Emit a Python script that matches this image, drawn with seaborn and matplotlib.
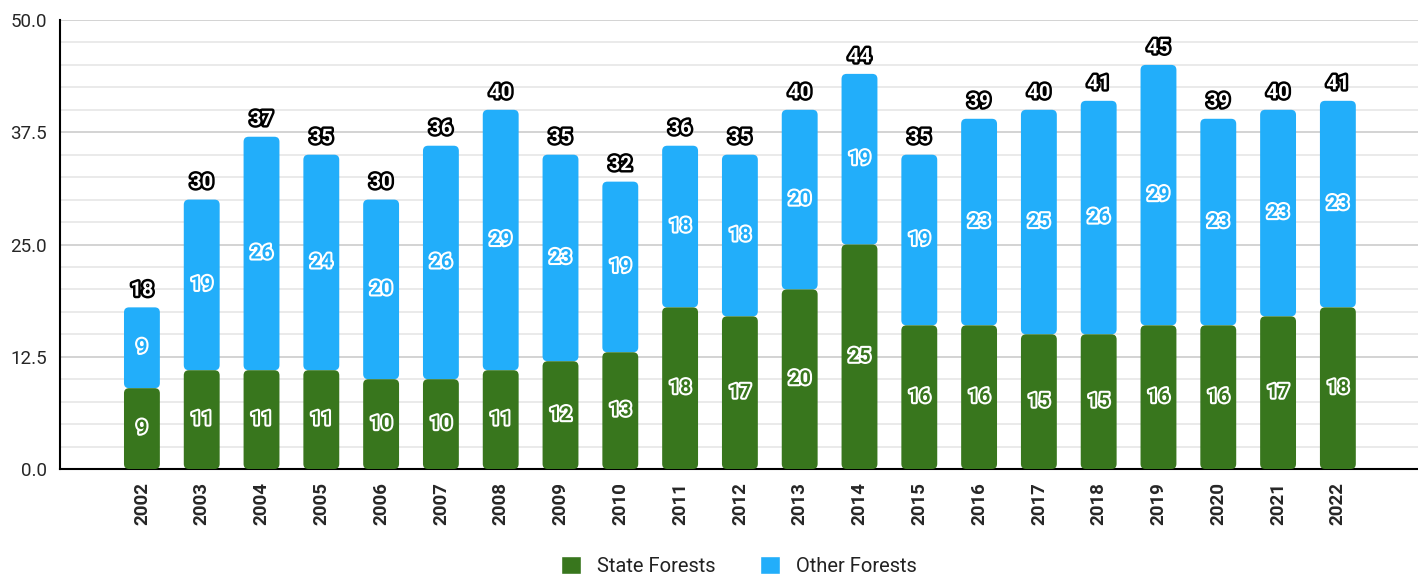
import numpy as np
import pandas as pd
import matplotlib
matplotlib.use("Agg")
import matplotlib.pyplot as plt
import matplotlib.patheffects as pe
from matplotlib.patches import FancyBboxPatch, Patch
from matplotlib.ticker import MultipleLocator
import seaborn as sns

# Data
years = [str(y) for y in range(2002, 2023)]
state_forests = [9, 11, 11, 11, 10, 10, 11, 12, 13, 18, 17, 20, 25, 16, 16, 15, 15, 16, 16, 17, 18]
other_forests = [9, 19, 26, 24, 20, 26, 29, 23, 19, 18, 18, 20, 19, 19, 23, 25, 26, 29, 23, 23, 23]
totals = [s + o for s, o in zip(state_forests, other_forests)]

green = "#38761d"
blue = "#22aefa"

sns.set_style("white")
plt.rcParams["font.family"] = ["Roboto", "DejaVu Sans"]

fig = plt.figure(figsize=(14.18, 5.74), dpi=100)
ax = fig.add_axes([60 / 1418, 1 - 469 / 574, 1 - 60 / 1418, (469 - 20) / 574])

df = pd.DataFrame({"year": years, "state": state_forests, "total": totals})
sns.barplot(data=df, x="year", y="total", color=blue, width=0.6, saturation=1, ax=ax)
sns.barplot(data=df, x="year", y="state", color=green, width=0.6, saturation=1, ax=ax)

ax.set_xlim(-1.37, 21.34)
ax.set_ylim(0, 50)

# swap plain rectangles for rounded ones, keeping the geometry from seaborn
n = len(years)
patches = list(ax.patches)
x_px = 1358 / (21.34 + 1.37)
y_px = 449 / 50
for i, p in enumerate(patches):
    x, w = p.get_x(), p.get_width()
    if i < n:
        y0, h, c = state_forests[i], other_forests[i], blue
    else:
        y0, h, c = 0, state_forests[i - n], green
    p.remove()
    ax.add_patch(FancyBboxPatch((x, y0), w, h,
                                boxstyle="round,pad=0,rounding_size=0.085",
                                mutation_aspect=x_px / y_px,
                                facecolor=c, edgecolor="none", zorder=3))

white_edge = [pe.withStroke(linewidth=3, foreground="white")]
black_edge = [pe.withStroke(linewidth=3.5, foreground="black")]
for i in range(n):
    ax.text(i, state_forests[i] / 2, str(state_forests[i]), ha="center", va="center",
            color=green, fontsize=14, fontweight="bold", path_effects=white_edge, zorder=5)
    ax.text(i, state_forests[i] + other_forests[i] / 2, str(other_forests[i]), ha="center",
            va="center", color=blue, fontsize=14, fontweight="bold", path_effects=white_edge, zorder=5)
    ax.text(i, totals[i] + 1.9, str(totals[i]), ha="center", va="center",
            color="white", fontsize=14.5, fontweight="bold", path_effects=black_edge, zorder=5)

ax.yaxis.set_major_locator(MultipleLocator(12.5))
ax.yaxis.set_minor_locator(MultipleLocator(2.5))
ax.yaxis.set_major_formatter(matplotlib.ticker.FormatStrFormatter("%.1f"))
ax.grid(axis="y", which="major", color="#cccccc", linewidth=1.2, zorder=0)
ax.grid(axis="y", which="minor", color="#e6e6e6", linewidth=1.2, zorder=0)
ax.set_axisbelow(True)
ax.tick_params(axis="y", which="major", length=6, width=1.5, color="black", labelsize=13.5)
ax.tick_params(axis="y", which="minor", length=0)
ax.tick_params(axis="x", length=6, width=1.5, color="black", labelsize=13.5)
for lab in ax.get_xticklabels():
    lab.set_rotation(90)
    lab.set_fontweight("bold")
ax.set_xlabel("")
ax.set_ylabel("")
for s in ["top", "right"]:
    ax.spines[s].set_visible(False)
for s in ["left", "bottom"]:
    ax.spines[s].set_color("black")
    ax.spines[s].set_linewidth(1.5)

handles = [Patch(facecolor=green, label="State Forests"), Patch(facecolor=blue, label="Other Forests")]
fig.legend(handles=handles, loc="lower center", bbox_to_anchor=(0.5 + 30 / 1418, -0.035), ncol=2,
           frameon=False, fontsize=14.5, handlelength=1.0, handleheight=1.0, columnspacing=2.2,
           handletextpad=0.8, labelcolor="#222222")

fig.savefig("out.png", dpi=100)
